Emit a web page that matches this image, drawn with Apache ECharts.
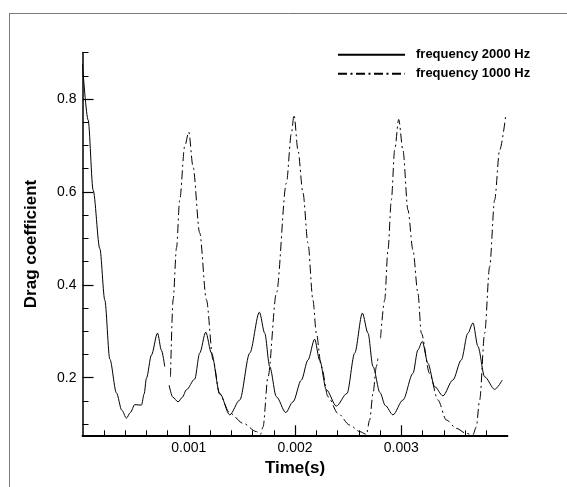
<!DOCTYPE html>
<html>
<head>
<meta charset="utf-8">
<script src="https://cdn.jsdelivr.net/npm/echarts@6/dist/echarts.min.js"></script>
<style>
html,body{margin:0;padding:0;background:#fff;}
#c{width:567px;height:487px;}
</style>
</head>
<body>
<div id="c"></div>
<script>
// ---- data (time in ms) ----
var seriesNames = ['frequency 2000 Hz', 'frequency 1000 Hz'];

var t2000 = [0, 0.053, 0.10, 0.163, 0.21, 0.257, 0.32, 0.37, 0.414, 0.45, 0.492, 0.555, 0.58, 0.602, 0.649, 0.706, 0.743, 0.774,
  0.79, 0.815, 0.85, 0.9, 0.94, 0.978, 1.056, 1.103, 1.16, 1.214, 1.292, 1.386, 1.48, 1.574, 1.665, 1.715, 1.762, 1.825,
  1.913, 1.981, 2.06, 2.122, 2.185, 2.232, 2.295, 2.389, 2.489, 2.562, 2.634, 2.687, 2.734, 2.8, 2.85, 2.922, 3.016,
  3.11, 3.157, 3.198, 3.251, 3.314, 3.392, 3.486, 3.565, 3.627, 3.675, 3.722, 3.785, 3.879, 3.951];
var y2000 = [0.875, 0.755, 0.604, 0.478, 0.367, 0.24, 0.167, 0.13, 0.113, 0.125, 0.142, 0.141, 0.165, 0.199, 0.249, 0.296, 0.259, 0.224,
  null, 0.184, 0.158, 0.148, 0.158, 0.174, 0.197, 0.253, 0.298, 0.253, 0.166, 0.120, 0.152, 0.253, 0.341, 0.296, 0.224, 0.159,
  0.125, 0.148, 0.195, 0.238, 0.283, 0.238, 0.174, 0.139, 0.166, 0.253, 0.339, 0.296, 0.224, 0.168, 0.14, 0.120, 0.152,
  0.209, 0.26, 0.278, 0.231, 0.181, 0.161, 0.195, 0.238, 0.296, 0.318, 0.267, 0.202, 0.175, 0.195];

var t1000 = [0.828, 0.853, 0.885, 0.915, 0.962, 1.0, 1.04, 1.103, 1.166, 1.229, 1.29, 1.386, 1.511, 1.637, 1.675, 1.699, 1.746,
  1.825, 1.919, 1.966, 1.991, 2.028, 2.075, 2.122, 2.169, 2.201, 2.248, 2.311, 2.405, 2.515, 2.609, 2.672, 2.703, 2.734,
  2.766, 2.78, 2.79, 2.805, 2.844, 2.875, 2.907, 2.938, 2.976, 3.016, 3.063, 3.110, 3.157, 3.189, 3.267, 3.345, 3.424,
  3.518, 3.612, 3.675, 3.706, 3.738, 3.785, 3.832, 3.879, 3.926, 3.982];
var y1000 = [0.202, 0.368, 0.48, 0.583, 0.698, 0.729, 0.655, 0.512, 0.368, 0.238, 0.165, 0.124, 0.102, 0.084, 0.078, 0.094, 0.202,
  0.382, 0.619, 0.726, 0.766, 0.690, 0.598, 0.490, 0.367, 0.296, 0.224, 0.159, 0.123, 0.098, 0.084, 0.078, 0.109, 0.166,
  0.224, 0.242, null, 0.285, 0.367, 0.475, 0.583, 0.690, 0.756, 0.690, 0.561, 0.475, 0.382, 0.296, 0.209, 0.152, 0.109,
  0.091, 0.080, 0.077, 0.094, 0.152, 0.296, 0.439, 0.583, 0.690, 0.762];

// ---- ticks ----
var xMajorTicks = [1, 2, 3];
var xMinorTicks = [0.2, 0.4, 0.6, 0.8, 1.2, 1.4, 1.6, 1.8, 2.2, 2.4, 2.6, 2.8, 3.2, 3.4, 3.6, 3.8];
var yMajorTicks = [0.2, 0.4, 0.6, 0.8];
var yMinorTicks = [0.1, 0.15, 0.25, 0.3, 0.35, 0.45, 0.5, 0.55, 0.65, 0.7, 0.75, 0.85, 0.9];

function zip(t, y) {
  return t.map(function (v, i) { return [v, y[i] === null ? '-' : y[i]]; });
}

var FONT = '"Liberation Sans", Arial, Helvetica, sans-serif';
var X_MIN = 0, X_MAX = 4, Y_MIN = 0.076, Y_MAX = 0.9;

var chart = echarts.init(document.getElementById('c'), null, {renderer: 'canvas'});
chart.setOption({
  animation: false,
  backgroundColor: '#fff',
  grid: {left: 82.5, right: 59.5, top: 52.6, bottom: 51.7, containLabel: false},
  legend: {
    orient: 'vertical', left: 337, top: 48.3, padding: 0, itemWidth: 67, itemHeight: 12, itemGap: 6,
    data: seriesNames,
    itemStyle: {color: 'rgba(0,0,0,0)', borderWidth: 0, opacity: 0},
    textStyle: {fontFamily: FONT, fontWeight: 'bold', fontSize: 13, color: '#000', padding: [0, 0, 0, 6]}
  },
  xAxis: [{
    type: 'value', min: X_MIN, max: X_MAX, position: 'bottom',
    axisLine: {show: true, onZero: false, lineStyle: {color: '#000', width: 1.8}},
    axisTick: {show: true, inside: true, length: 10, customValues: xMajorTicks, lineStyle: {color: '#000', width: 1.2}},
    axisLabel: {customValues: xMajorTicks, margin: 6, fontFamily: FONT, fontSize: 14, color: '#000',
      formatter: function (v) { return (v / 1000).toFixed(3); }},
    splitLine: {show: false},
    name: 'Time(s)', nameLocation: 'middle', nameGap: 17,
    nameTextStyle: {fontFamily: FONT, fontWeight: 'bold', fontSize: 17, color: '#000'}
  }, {
    type: 'value', min: X_MIN, max: X_MAX, position: 'bottom',
    axisLine: {show: false},
    axisTick: {show: true, inside: true, length: 5, customValues: xMinorTicks, lineStyle: {color: '#000', width: 1}},
    axisLabel: {show: false},
    splitLine: {show: false}
  }],
  yAxis: [{
    type: 'value', min: Y_MIN, max: Y_MAX, position: 'left',
    axisLine: {show: true, onZero: false, lineStyle: {color: '#000', width: 1.5}},
    axisTick: {show: true, inside: true, length: 11, customValues: yMajorTicks, lineStyle: {color: '#000', width: 1.2}},
    axisLabel: {customValues: yMajorTicks, margin: 6, fontFamily: FONT, fontSize: 14, color: '#000',
      formatter: function (v) { return String(v); }},
    splitLine: {show: false},
    name: 'Drag coefficient', nameLocation: 'middle', nameGap: 43, nameRotate: 90,
    nameTextStyle: {fontFamily: FONT, fontWeight: 'bold', fontSize: 17, color: '#000'}
  }, {
    type: 'value', min: Y_MIN, max: Y_MAX, position: 'left',
    axisLine: {show: false},
    axisTick: {show: true, inside: true, length: 6, customValues: yMinorTicks, lineStyle: {color: '#000', width: 1}},
    axisLabel: {show: false},
    splitLine: {show: false}
  }],
  series: [{
    name: seriesNames[0], type: 'line', data: zip(t2000, y2000),
    xAxisIndex: 0, yAxisIndex: 0, symbol: 'none', showSymbol: false,
    smooth: 0.3, smoothMonotone: 'x', connectNulls: false,
    lineStyle: {color: '#000', width: 1, type: 'solid'}, itemStyle: {color: '#000'}
  }, {
    name: seriesNames[1], type: 'line', data: zip(t1000, y1000),
    xAxisIndex: 0, yAxisIndex: 0, symbol: 'none', showSymbol: false,
    smooth: 0.3, smoothMonotone: 'x', connectNulls: false,
    lineStyle: {color: '#000', width: 1, type: [9, 3.5, 2, 3.5]}, itemStyle: {color: '#000'}
  }],
  graphic: [
    {type: 'line', shape: {x1: 9.5, y1: 13.5, x2: 567, y2: 13.5}, style: {stroke: '#7a7a7a', lineWidth: 1}, silent: true},
    {type: 'line', shape: {x1: 9.5, y1: 13, x2: 9.5, y2: 487}, style: {stroke: '#7a7a7a', lineWidth: 1}, silent: true}
  ]
});
</script>
</body>
</html>
